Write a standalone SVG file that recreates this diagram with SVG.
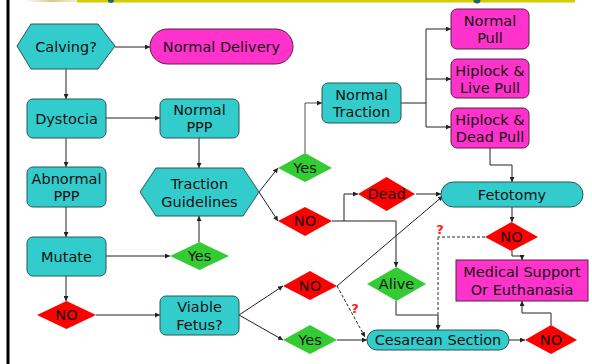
<svg xmlns="http://www.w3.org/2000/svg" width="592" height="364" viewBox="0 0 592 364">
<defs>
<marker id="ah" markerWidth="5" markerHeight="5" refX="5" refY="2.5" orient="auto" markerUnits="userSpaceOnUse"><path d="M0,0 L5,2.5 L0,5 z" fill="#222"/></marker>
<linearGradient id="logo" x1="0" x2="1"><stop offset="0" stop-color="#fff"/><stop offset="0.5" stop-color="#d8c98a"/><stop offset="1" stop-color="#f4f0d8"/></linearGradient>
</defs>
<style>
.teal{fill:#33CCCC;stroke:#2a5555;stroke-width:1}
.pink{fill:#FF33CC;stroke:#552244;stroke-width:1}
.red{fill:#FF0000}
.green{fill:#33CC33}
text{font-family:"DejaVu Sans",Verdana,sans-serif;font-size:14.5px;fill:#111;text-anchor:middle}
.q{font-family:"DejaVu Sans",sans-serif;font-weight:bold;font-size:13px;fill:#ff2020}
.c{fill:none;stroke:#222;stroke-width:1;marker-end:url(#ah)}
.cg{fill:none;stroke:#555;stroke-width:1;marker-end:url(#ah)}
.d{fill:none;stroke:#222;stroke-width:1;stroke-dasharray:3,2}
.dg{fill:none;stroke:#777;stroke-width:1.5;stroke-dasharray:3,2;marker-end:url(#ah)}
</style>
<rect x="0" y="0" width="592" height="364" fill="#fff"/>
<rect x="25" y="0" width="52" height="2" fill="url(#logo)"/>
<rect x="77" y="0" width="498" height="2.5" fill="#d4cc00"/>
<circle cx="111" cy="0" r="3" fill="#1a6a6a"/>
<circle cx="477" cy="0" r="3.5" fill="#1a6a6a"/>
<rect x="6.5" y="0" width="3" height="364" fill="#000"/>

<g id="connectors">
<path class="c" d="M115,47 H150"/>
<path class="c" d="M66,69 V99"/>
<path class="c" d="M106,118 H160"/>
<path class="c" d="M66,138 V167"/>
<path class="c" d="M66,207 V237"/>
<path class="c" d="M106,256 H170"/>
<path class="c" d="M199,242 V216"/>
<path class="c" d="M199,138 V168"/>
<path class="c" d="M66,276 V301"/>
<path class="c" d="M96,315 H160"/>
<path class="c" d="M259,192 L278,168"/>
<path class="c" d="M259,192 L278,221"/>
<path class="cg" d="M305,153 V103 H322"/>
<path class="c" d="M401,103 H426 V29 H451"/>
<path class="c" d="M426,79 H451"/>
<path class="c" d="M426,103 V127 H451"/>
<path class="c" d="M490,148 V165 H512 V182"/>
<path class="c" d="M332,221 H344 V194 H358"/>
<path class="c" d="M344,221 H396 V267"/>
<path class="c" d="M416,194 H441"/>
<path class="c" d="M239,315 L283,286"/>
<path class="c" d="M239,315 L283,340"/>
<path class="c" d="M337,286 L443,196"/>
<path class="d" d="M337,286 L365,337" marker-end="url(#ah)"/>
<path class="c" d="M337,340 H367"/>
<path class="c" d="M396,301 V315 H438 V330"/>
<path class="c" d="M512,207 V222"/>
<path class="c" d="M512,251 V256 H522 V260"/>
<path class="d" d="M485,237 H438"/>
<path class="dg" d="M438,237 V330"/>
<path class="c" d="M509,340 H525"/>
<path class="c" d="M551,325 V313 H522 V301"/>
<text class="q" x="355" y="313">?</text>
<text class="q" x="440" y="234">?</text>
</g>

<g id="calving"><polygon class="teal" points="17,46 31,24 98,24 115,46 98,69 31,69"/><text x="66" y="52">Calving?</text></g>
<g id="normal-delivery"><rect class="pink" x="150" y="29" width="143" height="35" rx="17.5"/><text x="221.5" y="52">Normal Delivery</text></g>
<g id="dystocia"><rect class="teal" x="27" y="99" width="79" height="39" rx="6"/><text x="66.5" y="124">Dystocia</text></g>
<g id="normal-ppp"><rect class="teal" x="160" y="99" width="79" height="39" rx="6"/><text x="199.5" y="115">Normal</text><text x="199.5" y="132">PPP</text></g>
<g id="abnormal-ppp"><rect class="teal" x="27" y="167" width="79" height="40" rx="6"/><text x="66.5" y="184">Abnormal</text><text x="66.5" y="201">PPP</text></g>
<g id="traction-guidelines"><polygon class="teal" points="140,192 156,168 243,168 259,192 243,216 156,216"/><text x="199.5" y="189">Traction</text><text x="199.5" y="207">Guidelines</text></g>
<g id="mutate"><rect class="teal" x="27" y="237" width="79" height="39" rx="6"/><text x="66.5" y="262">Mutate</text></g>
<g id="yes-mutate"><polygon class="green" points="170,256 199.5,242 229,256 199.5,270"/><text x="199.5" y="261">Yes</text></g>
<g id="no-mutate"><polygon class="red" points="37,315 66.5,301 96,315 66.5,329"/><text x="66.5" y="320">NO</text></g>
<g id="viable-fetus"><rect class="teal" x="160" y="296" width="79" height="39" rx="6"/><text x="199.5" y="312">Viable</text><text x="199.5" y="330">Fetus?</text></g>
<g id="yes-traction"><polygon class="green" points="278,168 305,153 332,168 305,182"/><text x="305" y="173">Yes</text></g>
<g id="no-traction"><polygon class="red" points="278,221 305,207 332,221 305,236"/><text x="305" y="226">NO</text></g>
<g id="normal-traction"><rect class="teal" x="322" y="83" width="79" height="40" rx="6"/><text x="361.5" y="100">Normal</text><text x="361.5" y="117">Traction</text></g>
<g id="normal-pull"><rect class="pink" x="451" y="9" width="78" height="40" rx="6"/><text x="490" y="26">Normal</text><text x="490" y="43">Pull</text></g>
<g id="hiplock-live"><rect class="pink" x="451" y="59" width="78" height="39" rx="6"/><text x="490" y="76">Hiplock &amp;</text><text x="490" y="93">Live Pull</text></g>
<g id="hiplock-dead"><rect class="pink" x="451" y="108" width="78" height="40" rx="6"/><text x="490" y="125">Hiplock &amp;</text><text x="490" y="142">Dead Pull</text></g>
<g id="dead"><polygon class="red" points="358,194 386.5,177 415,194 386.5,211"/><text x="386.5" y="199">Dead</text></g>
<g id="fetotomy"><rect class="teal" x="441" y="182" width="142" height="25" rx="12.5"/><text x="512" y="200">Fetotomy</text></g>
<g id="no-fetotomy"><polygon class="red" points="485,237 511.5,222 538,237 511.5,251"/><text x="511.5" y="242">NO</text></g>
<g id="alive"><polygon class="green" points="367,284 396.5,267 426,284 396.5,301"/><text x="396.5" y="289">Alive</text></g>
<g id="medical-support"><rect class="pink" x="456" y="260" width="132" height="41"/><text x="522" y="277">Medical Support</text><text x="522" y="295">Or Euthanasia</text></g>
<g id="no-viable"><polygon class="red" points="283,286 310,271 337,286 310,300"/><text x="310" y="291">NO</text></g>
<g id="yes-viable"><polygon class="green" points="283,340 310,325 337,340 310,354"/><text x="310" y="345">Yes</text></g>
<g id="cesarean"><rect class="teal" x="367" y="330" width="142" height="20" rx="10"/><text x="438" y="345">Cesarean Section</text></g>
<g id="no-cesarean"><polygon class="red" points="525,340 551,325 577,340 551,354"/><text x="551" y="345">NO</text></g>
</svg>
